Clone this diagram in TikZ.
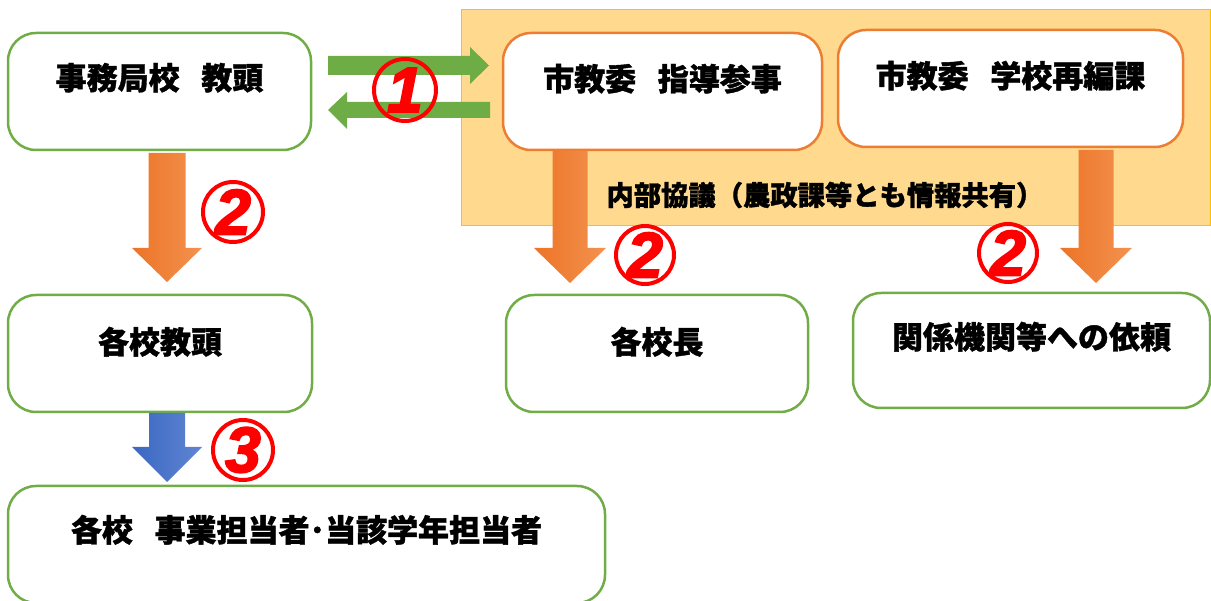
\documentclass[tikz,border=0pt]{standalone}
\usepackage{fontspec}
\newfontfamily\jp{Noto Sans CJK JP}[BoldFeatures={FakeBold=1.2}]
\newfontfamily\numf{Liberation Sans}[BoldFeatures={FakeBold=3}, BoldItalicFeatures={FakeBold=3}]
\definecolor{gbord}{HTML}{70AD47}
\definecolor{obord}{HTML}{ED7D31}
\definecolor{bgfill}{HTML}{FFD98E}
\definecolor{bgline}{HTML}{FFC000}
\definecolor{oarrL}{HTML}{EC7426}
\definecolor{oarrR}{HTML}{F39250}
\definecolor{barrL}{HTML}{3B67C2}
\definecolor{barrR}{HTML}{5F86D2}
\definecolor{garr}{HTML}{6EAD45}
\definecolor{numred}{HTML}{FF0000}
\newcommand\downblock[6]{({#1-#2},#4) -- ({#1+#2},#4) -- ({#1+#2},#5) -- ({#1+#3},#5) -- (#1,#6) -- ({#1-#3},#5) -- ({#1-#2},#5) -- cycle}
\newcommand\gap{\hspace{0.7em}}
\tikzset{
  gbox/.style={draw=gbord, line width=2.5pt, fill=white, rounded corners=28pt, inner sep=0pt},
  obox/.style={draw=obord, line width=2.5pt, fill=white, rounded corners=28pt, inner sep=0pt},
  lbl/.style={font=\jp\bfseries\fontsize{31}{34}\selectfont, text=black, inner sep=0pt},
  num/.style={draw=numred, line width=4pt, circle, inner sep=0pt, font=\numf\bfseries\itshape\fontsize{64}{64}\selectfont, text=numred},
}
\begin{document}
\begin{tikzpicture}[x=1pt, y=-1pt]
\useasboundingbox (0,0) rectangle (1211,601);
\clip (0,0) rectangle (1211,601);
% background panel
\node[draw=bgline, line width=1pt, fill=bgfill, minimum width=749pt, minimum height=216pt, inner sep=0pt] (panel) at (835.5,118) {};
% boxes
\node[gbox, minimum width=303pt, minimum height=117pt] (b1) at (159.5,91.5) {};
\node[lbl] (t1) at ([yshift=-46pt]b1.north) {事務局校\gap 教頭};
\node[gbox, minimum width=304pt, minimum height=117pt] (b2) at (160,353.5) {};
\node[lbl] (t2) at ([yshift=-48pt]b2.north) {各校教頭};
\node[gbox, minimum width=597pt, minimum height=117pt] (b3) at (306.5,544.5) {};
\node[lbl] (t3) at ([yshift=-45pt]b3.north) {各校\gap 事業担当者･当該学年担当者};
\node[obox, minimum width=319pt, minimum height=117pt] (b4) at (662.5,91.5) {};
\node[lbl] (t4) at ([yshift=-47pt]b4.north) {市教委\gap 指導参事};
\node[obox, minimum width=345pt, minimum height=117pt] (b5) at (1010.5,88.5) {};
\node[lbl] (t5) at ([yshift=-47pt]b5.north) {市教委\gap 学校再編課};
\node[gbox, minimum width=302pt, minimum height=117pt] (b6) at (657,353.5) {};
\node[lbl] (t6) at ([yshift=-48pt]b6.north) {各校長};
\node[gbox, minimum width=357pt, minimum height=115pt] (b7) at (1031.5,350.5) {};
\node[lbl] (t7) at ([yshift=-45pt]b7.north) {関係機関等への依頼};
\node[lbl, font=\jp\bfseries\fontsize{27.3}{30}\selectfont] (t8) at (825,195) {内部協議（農政課等とも情報共有）};
% green arrows
\fill[garr] (328,56) -- (470,56) -- (470,47) -- (489,65.5) -- (470,84) -- (470,75) -- (328,75) -- cycle;
\fill[garr] (490,102) -- (347,102) -- (347,92) -- (328,110) -- (347,129) -- (347,118) -- (490,118) -- cycle;
% orange arrows
\shade[left color=oarrL, right color=oarrR] \downblock{167}{18.5}{35}{153}{248}{282};
\shade[left color=oarrL, right color=oarrR] \downblock{570}{17.5}{36}{151}{248}{283};
\shade[left color=oarrL, right color=oarrR] \downblock{1096}{17.5}{36}{150}{248}{283};
% blue arrow
\shade[left color=barrL, right color=barrR] \downblock{167}{18}{35}{413}{447}{482};
% numbers
\node[num, minimum size=62pt] (n1) at (405,90) {\raisebox{-0.3ex}{1}};
\node[num, minimum size=60pt] (n2a) at (233,212) {\raisebox{-0.3ex}{2}};
\node[num, minimum size=58pt] (n2b) at (645,255) {\raisebox{-0.3ex}{2}};
\node[num, minimum size=58pt] (n2c) at (1008,253) {\raisebox{-0.3ex}{2}};
\node[num, minimum size=60pt] (n3) at (243,450) {\raisebox{-0.3ex}{3}};
\end{tikzpicture}
\end{document}
